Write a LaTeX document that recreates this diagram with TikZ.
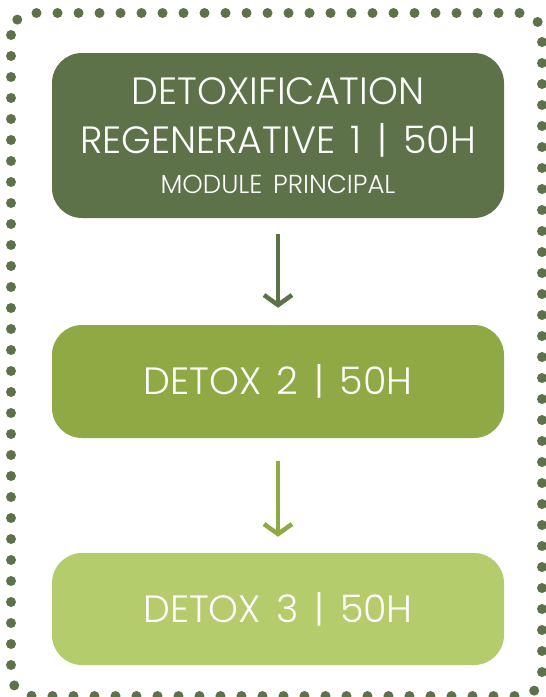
\documentclass[tikz,border=0pt]{standalone}
\usepackage{fontspec}
\setmainfont{Poppins}[UprightFont=* Light, WordSpace=1.5]
\usepackage{tikz}
\usetikzlibrary{arrows.meta}

\definecolor{darkgreen}{HTML}{5E724A}
\definecolor{midgreen}{HTML}{8FAA45}
\definecolor{lightgreen}{HTML}{B4CC6C}

\tikzset{
  modbox/.style={rounded corners=30pt, minimum width=452pt, align=center,
    text=white, inner sep=0pt, font=\fontsize{38}{28}\selectfont},
  flowarrow/.style={line width=4.5pt, -{Straight Barb[length=10pt,width=28pt]}}
}

\begin{document}
\begin{tikzpicture}[x=1pt,y=-1pt]
  \def\W{546}  % width  (pixels of the reference)
  \def\H{697}  % height
  \def\cx{278} % centre line of the boxes

  \useasboundingbox (0,0) rectangle (\W,\H);

  % Dotted outer frame
  \draw[darkgreen, line width=10pt, line cap=round, dash pattern=on 0pt off 21pt,
        rounded corners=22pt] (11,13) rectangle (542,696);

  % Modules
  \node[modbox, fill=darkgreen, minimum height=165pt] (mod1) at (\cx,135.5)
    {DETOXIFICATION\\[18pt]
     REGENERATIVE 1 | 50H\\[12pt]
     {\fontsize{26}{28}\selectfont MODULE PRINCIPAL}};
  \node[modbox, fill=midgreen, minimum height=113pt] (mod2) at (\cx,381.5)
    {DETOX 2 | 50H};
  \node[modbox, fill=lightgreen, minimum height=112pt] (mod3) at (\cx,609)
    {DETOX 3 | 50H};

  % Arrows between modules
  \draw[flowarrow, darkgreen, shorten <=16pt, shorten >=17pt] (mod1) -- (mod2);
  \draw[flowarrow, midgreen, shorten <=23pt, shorten >=16pt] (mod2) -- (mod3);
\end{tikzpicture}
\end{document}
